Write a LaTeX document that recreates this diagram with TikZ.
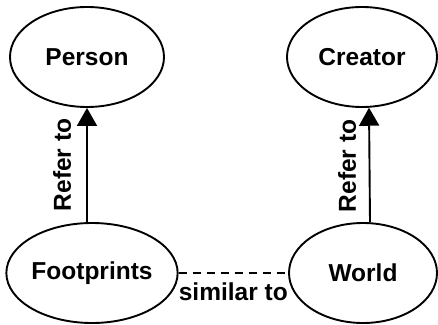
\documentclass[tikz,border=0pt]{standalone}
\usepackage{fontspec}
\setmainfont{Liberation Sans}
\usetikzlibrary{shapes.geometric,arrows.meta,calc}
\begin{document}
\begin{tikzpicture}[x=1pt,y=1pt,
  concept/.style={ellipse,draw,line width=1.9pt,inner sep=0pt,
    minimum height=100pt,font=\fontsize{24.5}{28}\selectfont\bfseries},
  refers/.style={line width=1.9pt,-{Triangle[width=20pt,length=18pt]}},
  lbl/.style={font=\fontsize{24.5}{28}\selectfont\bfseries,inner sep=0pt}]
\useasboundingbox (0,0) rectangle (438,324);
\node[concept,minimum width=154pt] (person) at (87,267) {Person};
\node[concept,minimum width=150pt] (creator) at (362,267) {Creator};
\node[concept,minimum width=152pt] (foot) at (92,51) {Footprints};
\node[concept,minimum width=148pt] (world) at (363,51) {World};
% "refer to" relations
\draw[refers] (foot.north -| person.south) -- (person.south);
\draw[refers] ($(world.north)+(7pt,-0.2pt)$) -- ($(creator.south)+(7pt,0.2pt)$);
\node[lbl,rotate=90] at (62,159) {Refer to};
\node[lbl,rotate=90] at (347,158) {Refer to};
% similarity between the two
\draw[line width=1.6pt,dash pattern=on 8pt off 6pt] (foot.east) -- (world.west)
  node[lbl,midway,below=9pt] {similar to};
\end{tikzpicture}
\end{document}
